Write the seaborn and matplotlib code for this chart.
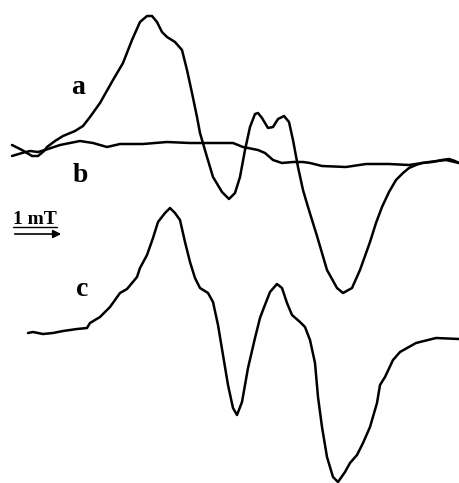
import pandas as pd
import matplotlib.pyplot as plt
import seaborn as sns

# Traces (x along field, y = signal, image units, y grows downward)
a_x = [12, 22, 32, 38, 44, 47, 55, 63, 75, 83, 90, 100, 113, 123, 132, 140, 147, 152, 157, 162,
       167, 175, 182, 187, 192, 197, 200, 207, 213, 222, 229, 235, 240, 245, 250, 255, 258, 262,
       268, 273, 278, 284, 289, 293, 298, 303, 308, 317, 327, 337, 343, 352, 360, 370, 376, 382,
       389, 396, 403, 409, 416, 422, 432, 442, 449, 455, 459]
a_y = [145, 150, 156, 156, 151, 147, 141, 136, 131, 126, 117, 103, 80, 63, 40, 22, 16, 16, 22, 32,
       37, 42, 50, 70, 93, 117, 133, 157, 177, 192, 199, 193, 177, 150, 127, 114, 113, 118,
       128, 127, 119, 116, 122, 140, 167, 190, 207, 236, 270, 288, 293, 288, 270, 242, 223, 207,
       192, 180, 173, 168, 165, 163, 162, 160, 159, 161, 163]

b_x = [12, 22, 30, 38, 45, 60, 80, 93, 107, 120, 143, 167, 190, 207, 233, 243, 258, 265, 273,
       282, 293, 303, 310, 322, 346, 366, 389, 409, 429, 446, 459]
b_y = [156, 153, 151, 152, 150, 145, 141, 143, 147, 144, 144, 142, 143, 143, 143, 147, 150, 153, 160,
       163, 162, 162, 163, 166, 167, 164, 164, 165, 162, 160, 163]

c_x = [28, 33, 43, 53, 63, 77, 87, 90, 100, 110, 120, 127, 137, 140, 147, 153, 158, 165, 170, 175,
       180, 185, 190, 195, 200, 208, 213, 218, 223, 228, 233, 237, 242, 248, 255, 260, 263, 270,
       277, 282, 287, 292, 300, 305, 310, 315, 318, 322, 327, 333, 338, 345, 350, 357, 363, 370,
       377, 380, 385, 393, 400, 416, 436, 459]
c_y = [333, 332, 334, 333, 331, 329, 328, 323, 317, 307, 293, 289, 277, 268, 255, 238, 222, 213, 208, 213,
       220, 242, 262, 278, 288, 293, 302, 325, 355, 385, 408, 415, 402, 368, 338, 318, 310, 292,
       284, 288, 303, 315, 322, 327, 340, 363, 397, 427, 457, 477, 482, 472, 463, 455, 443, 427,
       403, 385, 377, 360, 352, 343, 338, 339]

labels = ["a", "b", "c"]
label_pos = [(78, 87), (80, 175), (82, 289)]
scale_text = "1 mT"

frames = []
for name, xs, ys in [("a", a_x, a_y), ("b", b_x, b_y), ("c", c_x, c_y)]:
    frames.append(pd.DataFrame({"field": xs, "signal": ys, "trace": name}))
df = pd.concat(frames, ignore_index=True)

sns.set_style("white")
plt.rcParams["font.family"] = ["Liberation Serif", "DejaVu Serif"]

fig = plt.figure(figsize=(4.59, 4.83), dpi=100)
ax = fig.add_axes([0, 0, 1, 1])

sns.lineplot(data=df, x="field", y="signal", units="trace", estimator=None, sort=False,
             color="black", linewidth=1.8, ax=ax)

for lab, (lx, ly) in zip(labels, label_pos):
    ax.text(lx, ly, lab, fontsize=20, fontweight="bold", ha="center", va="center", color="black")

# scale bar
ax.text(13, 224, scale_text, fontsize=14, fontweight="bold", ha="left", va="baseline", color="black")
ax.plot([13, 57], [227, 227], color="black", linewidth=1.0)
ax.annotate("", xy=(64, 234), xytext=(12, 234),
            arrowprops=dict(arrowstyle="-|>", color="black", lw=1.2, mutation_scale=12))

ax.set_xlim(0, 459)
ax.set_ylim(483, 0)
ax.set_axis_off()

plt.savefig("out.png", dpi=100)
